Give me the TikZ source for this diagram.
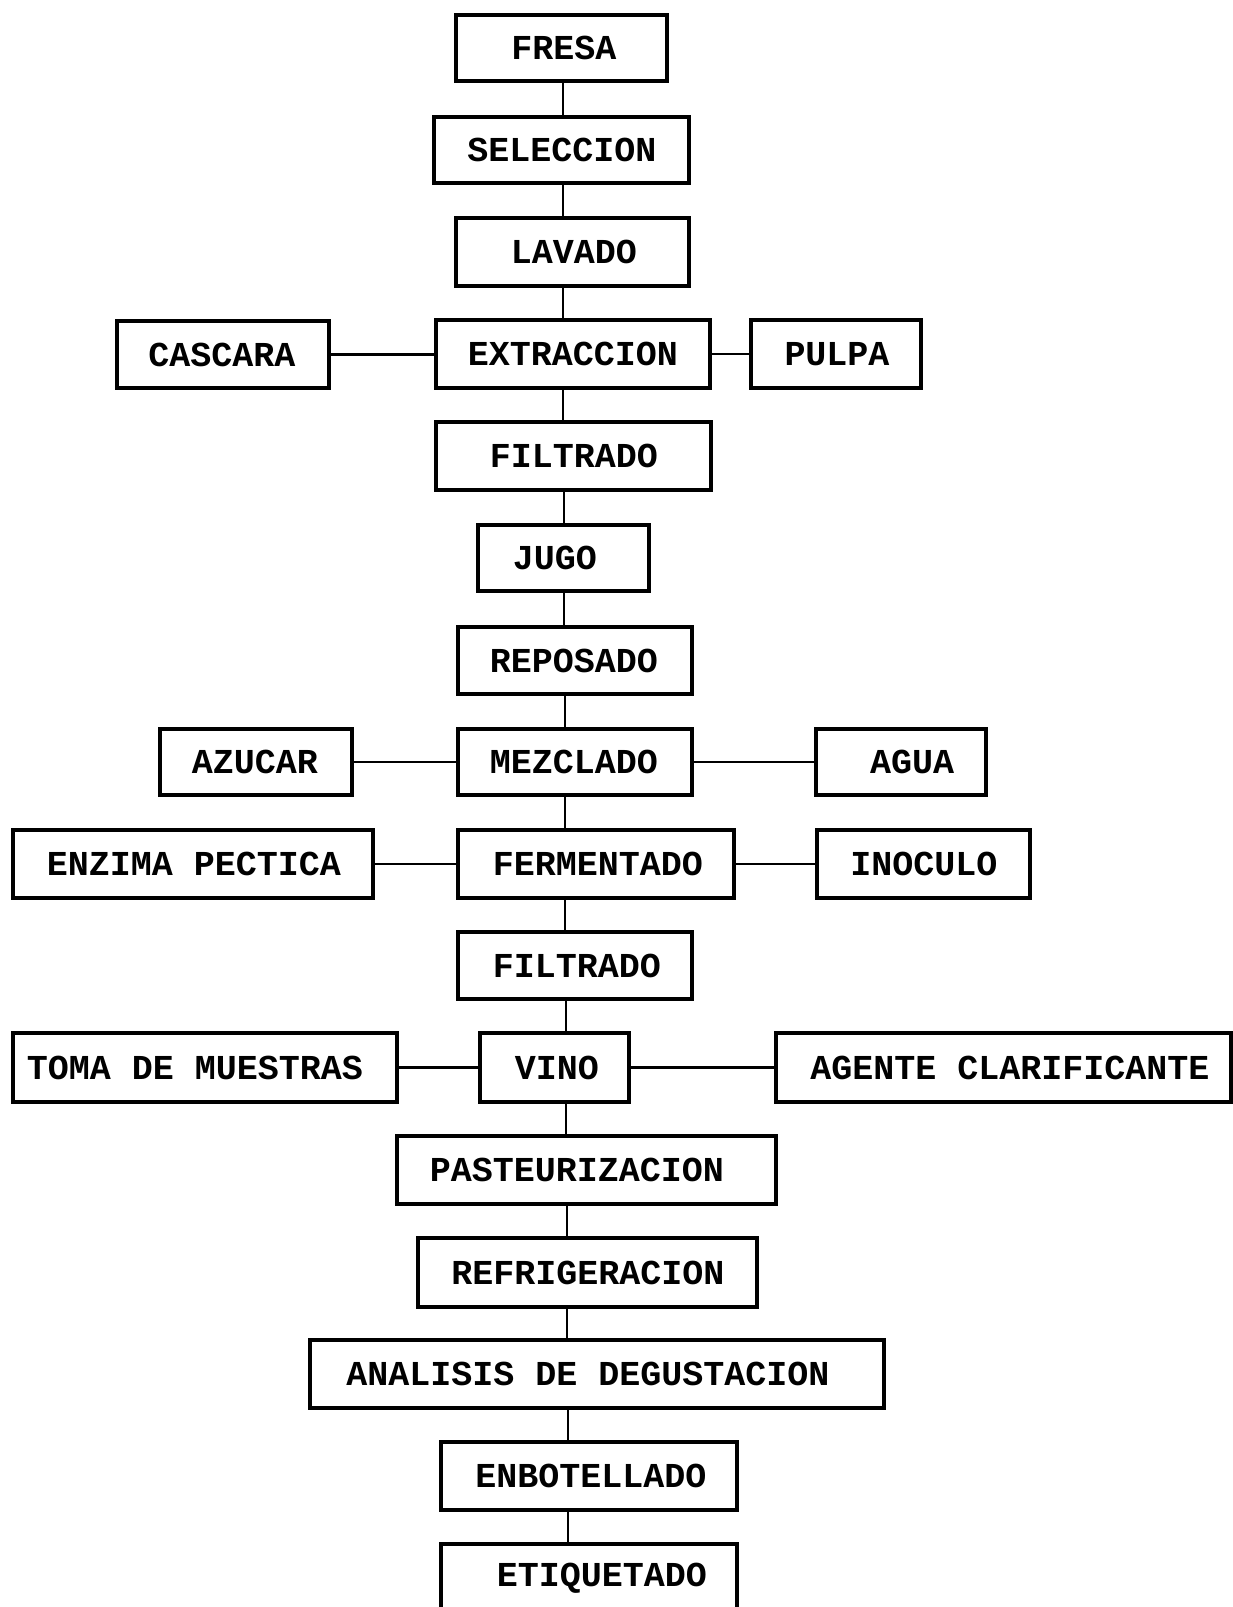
\documentclass[tikz,border=0pt]{standalone}
\usepackage{fontspec}
\setmonofont{Liberation Mono}
\begin{document}
\begin{tikzpicture}[x=1pt,y=-1pt,
  box/.style={draw,line width=3.2pt,inner sep=0pt,rectangle},
  lbl/.style={font=\ttfamily\bfseries\fontsize{35}{35}\selectfont,inner sep=0pt,anchor=center},
  conn/.style={line width=2.4pt}]
\useasboundingbox (0,0) rectangle (1233,1607);
\clip (0,0) rectangle (1233,1607);
\fill[white] (0,0) rectangle (1233,1607);
\newcommand\mkbox[7]{%
  \node[box,minimum width={(#4-#2)*1pt},minimum height={(#5-#3)*1pt}] (#1) at ({(#2+#4)/2},{(#3+#5)/2}) {};
  \node[lbl] (#1-t) at (#6,{(#3+#5)/2}) {#7};}
\mkbox{fresa}{456}{15}{667}{81}{564}{FRESA}
\mkbox{sel}{434}{117}{689}{183}{562}{SELECCION}
\mkbox{lav}{456}{218}{689}{286}{574}{LAVADO}
\mkbox{casc}{117}{321}{329}{388}{222}{CASCARA}
\mkbox{extr}{436}{320}{710}{388}{573}{EXTRACCION}
\mkbox{pulpa}{751}{320}{921}{388}{837}{PULPA}
\mkbox{filt}{436}{422}{711}{490}{574}{FILTRADO}
\mkbox{jugo}{478}{525}{649}{591}{555}{JUGO}
\mkbox{repo}{458}{627}{692}{694}{574}{REPOSADO}
\mkbox{azuc}{160}{729}{352}{795}{255}{AZUCAR}
\mkbox{mezc}{458}{729}{692}{795}{574}{MEZCLADO}
\mkbox{agua}{816}{729}{986}{795}{912}{AGUA}
\mkbox{enz}{13}{830}{373}{898}{194}{ENZIMA PECTICA}
\mkbox{ferm}{458}{830}{734}{898}{598}{FERMENTADO}
\mkbox{inoc}{817}{830}{1030}{898}{924}{INOCULO}
\mkbox{filtb}{458}{932}{692}{999}{577}{FILTRADO}
\mkbox{toma}{13}{1033}{397}{1102}{195}{TOMA DE MUESTRAS}
\mkbox{vino}{480}{1033}{629}{1102}{557}{VINO}
\mkbox{agen}{776}{1033}{1231}{1102}{1010}{AGENTE CLARIFICANTE}
\mkbox{past}{397}{1136}{776}{1204}{577}{PASTEURIZACION}
\mkbox{refr}{418}{1238}{757}{1307}{588}{REFRIGERACION}
\mkbox{anal}{310}{1340}{884}{1408}{588}{ANALISIS DE DEGUSTACION}
\mkbox{enbo}{441}{1442}{737}{1510}{591}{ENBOTELLADO}
\node[box,minimum width=296pt,minimum height=96pt] (etiq) at (589,1592) {};
\node[lbl] (etiq-t) at (602,1578) {ETIQUETADO};
% vertical connector lines
\coordinate (va) at (563,0);
\coordinate (vb) at (564,0);
\coordinate (vc) at (565,0);
\coordinate (vd) at (566,0);
\coordinate (ve) at (567,0);
\coordinate (vf) at (568,0);
\draw[conn] (fresa.south -| va) -- (sel.north -| va);
\draw[conn] (sel.south -| va) -- (lav.north -| va);
\draw[conn] (lav.south -| va) -- (extr.north -| va);
\draw[conn] (extr.south -| va) -- (filt.north -| va);
\draw[conn] (filt.south -| vb) -- (jugo.north -| vb);
\draw[conn] (jugo.south -| vb) -- (repo.north -| vb);
\draw[conn] (repo.south -| vc) -- (mezc.north -| vc);
\draw[conn] (mezc.south -| vc) -- (ferm.north -| vc);
\draw[conn] (ferm.south -| vc) -- (filtb.north -| vc);
\draw[conn] (filtb.south -| vd) -- (vino.north -| vd);
\draw[conn] (vino.south -| vd) -- (past.north -| vd);
\draw[conn] (past.south -| ve) -- (refr.north -| ve);
\draw[conn] (refr.south -| ve) -- (anal.north -| ve);
\draw[conn] (anal.south -| vf) -- (enbo.north -| vf);
\draw[conn] (enbo.south -| vf) -- (etiq.north -| vf);
% horizontal connectors
\draw[conn] (casc.east) -- (casc.east -| extr.west);
\draw[conn] (extr.east) -- (extr.east -| pulpa.west);
\draw[conn] (azuc.east) -- (azuc.east -| mezc.west);
\draw[conn] (mezc.east) -- (mezc.east -| agua.west);
\draw[conn] (enz.east) -- (enz.east -| ferm.west);
\draw[conn] (ferm.east) -- (ferm.east -| inoc.west);
\draw[conn] (toma.east) -- (toma.east -| vino.west);
\draw[conn] (vino.east) -- (vino.east -| agen.west);
\end{tikzpicture}
\end{document}
